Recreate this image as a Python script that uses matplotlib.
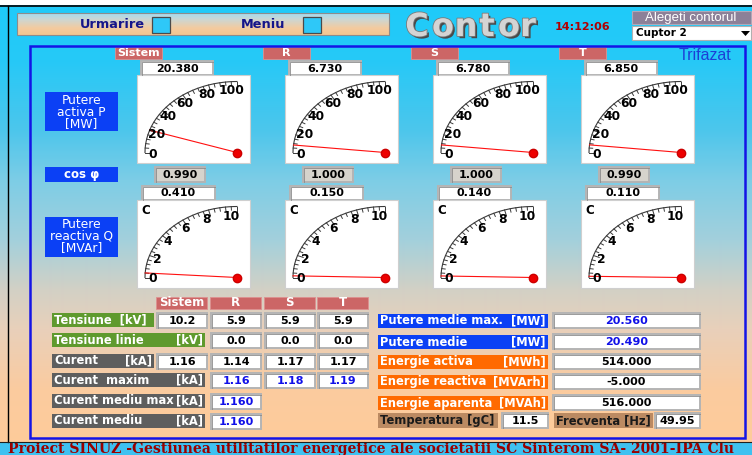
import numpy as np
import matplotlib.pyplot as plt
from matplotlib.patches import Rectangle, Polygon
from matplotlib.colors import to_rgb
import matplotlib.patheffects as pe

W, H = 752, 455

# ---------------------------------------------------------------- data
phases = ['Sistem', 'R', 'S', 'T']
putere_activa = [20.380, 6.730, 6.780, 6.850]      # MW
cos_phi = [0.990, 1.000, 1.000, 0.990]
putere_reactiva = [0.410, 0.150, 0.140, 0.110]    # MVAr
p_ticks = [0, 20, 40, 60, 80, 100]
q_ticks = [0, 2, 4, 6, 8, 10]

tensiune = [10.2, 5.9, 5.9, 5.9]                  # kV, Sistem R S T
tensiune_linie = [0.0, 0.0, 0.0]                  # kV, R S T
curent = [1.16, 1.14, 1.17, 1.17]                 # kA, Sistem R S T
curent_maxim = [1.16, 1.18, 1.19]                 # kA, R S T
curent_mediu_max = 1.160
curent_mediu = 1.160

energie_labels = ['Putere medie max.', 'Putere medie', 'Energie activa',
                  'Energie reactiva', 'Energie aparenta']
energie_units = ['[MW]', '[MW]', '[MWh]', '[MVArh]', '[MVAh]']
energie_values = [20.560, 20.490, 514.000, -5.000, 516.000]
temperatura = 11.5
frecventa = 49.95
ora = '14:12:06'
contor = 'Cuptor 2'
footer = ('Proiect SINUZ -Gestiunea utilitatilor energetice ale societatii '
          'SC Sinterom SA- 2001-IPA Clu')

FONT = 'DejaVu Sans'

fig = plt.figure(figsize=(W / 100, H / 100), dpi=100)
ax = fig.add_axes([0, 0, 1, 1])


def rect(x0, y0, x1, y1, fc, ec='none', lw=0.8, z=2):
    ax.add_patch(Rectangle((x0, y0), x1 - x0, y1 - y0, fc=fc, ec=ec, lw=lw, zorder=z))


def txt(x, y, s, size=8, color='black', weight='bold', ha='center', family=FONT, z=5, **kw):
    ax.text(x, y, s, fontsize=size, color=color, fontweight=weight, ha=ha,
            va='center', family=family, zorder=z, **kw)


def field(x0, y0, x1, y1, s, color='black', fc='white'):
    rect(x0, y0, x1, y1, fc, ec='#b4b4b4', lw=1.4)
    ax.plot([x0 + 0.5, x0 + 0.5, x1 - 0.5], [y1 - 0.5, y0 + 0.5, y0 + 0.5],
            color='#8a8a8a', lw=0.6, zorder=3)
    txt((x0 + x1) / 2, (y0 + y1) / 2 + 0.5, s, color=color)


def label(x0, y0, x1, y1, name, unit, fc, color='white', size=8.3):
    rect(x0, y0, x1, y1, fc)
    txt(x0 + 2, (y0 + y1) / 2, name, size=size, color=color, ha='left')
    if unit:
        txt(x1 - 2, (y0 + y1) / 2, unit, size=size, color=color, ha='right')


def gradient(x0, y0, x1, y1, ys, cols):
    yy = np.arange(y0, y1) + 0.5
    rgb = np.array([to_rgb(c) for c in cols])
    img = np.stack([np.interp(yy, ys, rgb[:, i]) for i in range(3)], axis=-1)
    ax.imshow(img[:, None, :], extent=(x0, x1, y1, y0), aspect='auto',
              interpolation='bilinear', zorder=0)


def gauge(x0, y0, value, ticks, cap=None):
    rect(x0, y0, x0 + 113, y0 + 88, 'white', ec='#cfcfcf', lw=0.8)
    cx, cy = x0 + 100, y0 + 77.5
    rx, ry = 92, 71
    vmax = ticks[-1]
    th = np.linspace(np.pi, np.pi / 2, 150)
    ax.plot(cx + rx * np.cos(th), cy - ry * np.sin(th), color='#3a3a3a', lw=0.8, zorder=3)
    for k in range(26):
        a = np.pi - np.pi / 2 * k / 25
        ln = 6 if k % 5 == 0 else 3.5
        ax.plot([cx + rx * np.cos(a), cx + (rx - ln) * np.cos(a)],
                [cy - ry * np.sin(a), cy - (ry - ln) * np.sin(a)],
                color='#3a3a3a', lw=0.7, zorder=3)
    for t in ticks:
        a = np.pi - np.pi / 2 * t / vmax
        txt(cx - 6 + 78 * np.cos(a), cy + 1.5 - 63 * np.sin(a), str(t), size=8.8)
    a = np.pi - np.pi / 2 * value / vmax
    ax.plot([cx, cx + rx * np.cos(a)], [cy, cy - ry * np.sin(a)], color='#ff1010', lw=0.8, zorder=4)
    ax.plot(cx, cy, 'o', ms=6, color='#ee0000', mec='#cc0000', zorder=5)
    if cap:
        txt(x0 + 9, y0 + 11, cap, size=8.5)


# ---------------------------------------------------------------- background
gradient(0, 0, W, H,
         [0, 60, 130, 180, 240, 290, 330, 390, 455],
         ['#1ecbfa', '#26c9f7', '#4cc6ec', '#7dcde6', '#a3d0dc', '#d3d0c5',
          '#e9d0ba', '#fbcb9f', '#ffcc99'])
rect(0, 0, W, 5, 'white', z=1)
ax.plot([0, W], [5.5, 5.5], color='black', lw=1.2, zorder=6)
ax.plot([7.5, 7.5], [5.5, 442], color='black', lw=1.0, zorder=6)

# top bar
gradient(17, 13, 389, 35, [13, 20, 28, 35], ['#a2dcf2', '#cfd6d0', '#f3cba0', '#f4c690'])
rect(17, 13, 389, 35, 'none', ec='#8c8c8c', lw=0.8, z=3)
txt(112, 25, 'Urmarire', size=9.3, color='#15158a')
txt(263, 25, 'Meniu', size=9.3, color='#15158a')
for bx in (152, 303):
    rect(bx, 17, bx + 18, 33, '#2ec8f8', ec='#4a4a4a', lw=0.9, z=3)

# title, one text per letter with a drop shadow
title_fx = [pe.withSimplePatchShadow(offset=(1.6, -1.6), shadow_rgbFace='#4a4a4a', alpha=1.0),
            pe.withStroke(linewidth=1.2, foreground='#7a7a7a')]
for ch, cx in zip('Contor', [417, 443, 466, 487, 509, 528]):
    ax.text(cx, 36, ch, fontsize=23, fontweight='bold', family=FONT, color='#d4d4d4',
            ha='center', va='baseline', zorder=5, path_effects=title_fx)
txt(583, 27, ora, size=8, color='#b00000')

rect(632, 11, 751, 24, '#8c8098', ec='#b0a8b8', lw=0.8)
txt(691, 17.5, 'Alegeti contorul', size=9.5, color='white', weight='normal',
    family='Liberation Sans')
rect(632, 26, 751, 40, 'white', ec='#b0b0b0', lw=0.8)
txt(636, 33.5, contor, size=7.5, ha='left')
ax.add_patch(Polygon([(741, 31), (750, 31), (745.5, 36)], closed=True, fc='black', zorder=5))

# main panel
rect(30, 46, 745, 438, 'none', ec='#1414e6', lw=1.8, z=6)
txt(705, 56, 'Trifazat', size=11.5, color='#1c3fd6', weight='normal', family='Liberation Sans')

# left captions
rect(45, 92, 118, 131, '#0b40f5')
for yy, s in zip([100, 112, 124], ['Putere', 'activa P', '[MW]']):
    txt(81.5, yy, s, size=8.8, color='white', weight='normal')
rect(45, 167, 118, 182, '#0b40f5')
txt(81.5, 174.5, 'cos φ', size=8.5, color='white')
rect(45, 217, 118, 257, '#0b40f5')
for yy, s in zip([224, 236, 248], ['Putere', 'reactiva Q', '[MVAr]']):
    txt(81.5, yy, s, size=8.8, color='white', weight='normal')

# phase columns with gauges
for k, ph in enumerate(phases):
    gx = 137 + 148 * k
    rect(gx - 22, 47, gx + 25, 59, '#cc6666', ec='#dd9090', lw=0.6)
    txt(gx + 1.5, 53, ph, size=8, color='white')
    field(gx + 4, 61, gx + 76, 75, '%.3f' % putere_activa[k])
    gauge(gx, 75, putere_activa[k], p_ticks)
    field(gx + 18, 167, gx + 68, 182, '%.3f' % cos_phi[k], fc='#d6d3cc')
    field(gx + 5, 186, gx + 78, 200, '%.3f' % putere_reactiva[k])
    gauge(gx, 200, putere_reactiva[k], q_ticks, cap='C')

# bottom-left table
col_x = [157, 211, 265, 318]
for k, ph in enumerate(phases):
    rect(col_x[k] - 1, 297, col_x[k] + 50, 309, '#cc6666', ec='#dd9090', lw=0.6)
    txt(col_x[k] + 24.5, 303, ph, size=8.5, color='white')

row_y = [313, 333, 354, 373, 394, 414]
label(52, row_y[0], 154, row_y[0] + 14, 'Tensiune  [kV]', '', '#5f9a2e')
label(52, row_y[1], 205, row_y[1] + 14, 'Tensiune linie', '[kV]', '#5f9a2e')
label(52, row_y[2], 154, row_y[2] + 14, 'Curent', '[kA]', '#5e5e5e')
label(52, row_y[3], 205, row_y[3] + 14, 'Curent  maxim', '[kA]', '#5e5e5e')
label(52, row_y[4], 205, row_y[4] + 14, 'Curent mediu max', '[kA]', '#5e5e5e')
label(52, row_y[5], 205, row_y[5] + 14, 'Curent mediu', '[kA]', '#5e5e5e')

for k, v in enumerate(tensiune):
    field(col_x[k], row_y[0], col_x[k] + 50, row_y[0] + 15, '%.1f' % v)
for k, v in enumerate(tensiune_linie):
    field(col_x[k + 1], row_y[1], col_x[k + 1] + 50, row_y[1] + 15, '%.1f' % v)
for k, v in enumerate(curent):
    field(col_x[k], row_y[2], col_x[k] + 50, row_y[2] + 15, '%.2f' % v)
for k, v in enumerate(curent_maxim):
    field(col_x[k + 1], row_y[3], col_x[k + 1] + 50, row_y[3] + 15, '%.2f' % v, color='#1010e8')
field(col_x[1], row_y[4], col_x[1] + 50, row_y[4] + 15, '%.3f' % curent_mediu_max, color='#1010e8')
field(col_x[1], row_y[5], col_x[1] + 50, row_y[5] + 15, '%.3f' % curent_mediu, color='#1010e8')

# bottom-right table
erow_y = [314, 335, 355, 375, 396]
ecol = ['#0b40f5', '#0b40f5', '#ff6a00', '#ff6a00', '#ff6a00']
vcol = ['#1010e8', '#1010e8', 'black', 'black', 'black']
for k in range(5):
    y0 = erow_y[k]
    label(378, y0, 548, y0 + 14, energie_labels[k], energie_units[k], ecol[k])
    field(553, y0 - 1, 700, y0 + 14, '%.3f' % energie_values[k], color=vcol[k])

label(378, 413, 498, 428, 'Temperatura [gC]', '', '#bb8a62', color='#1a1a1a')
field(502, 413, 548, 428, '%.1f' % temperatura)
label(554, 413, 653, 428, 'Frecventa [Hz]', '', '#bb8a62', color='#1a1a1a')
field(655, 413, 700, 428, '%.2f' % frecventa)

# footer
rect(0, 442, W, H, '#3fc1f0', z=1)
ax.plot([0, W], [441.5, 441.5], color='#202020', lw=0.8, zorder=6)
ax.text(8, 449, footer, fontsize=10.1, fontweight='bold', family='DejaVu Serif',
        color='#990000', ha='left', va='center', zorder=5)

ax.set_xlim(0, W)
ax.set_ylim(H, 0)
ax.axis('off')
fig.savefig('out.png', dpi=100)
